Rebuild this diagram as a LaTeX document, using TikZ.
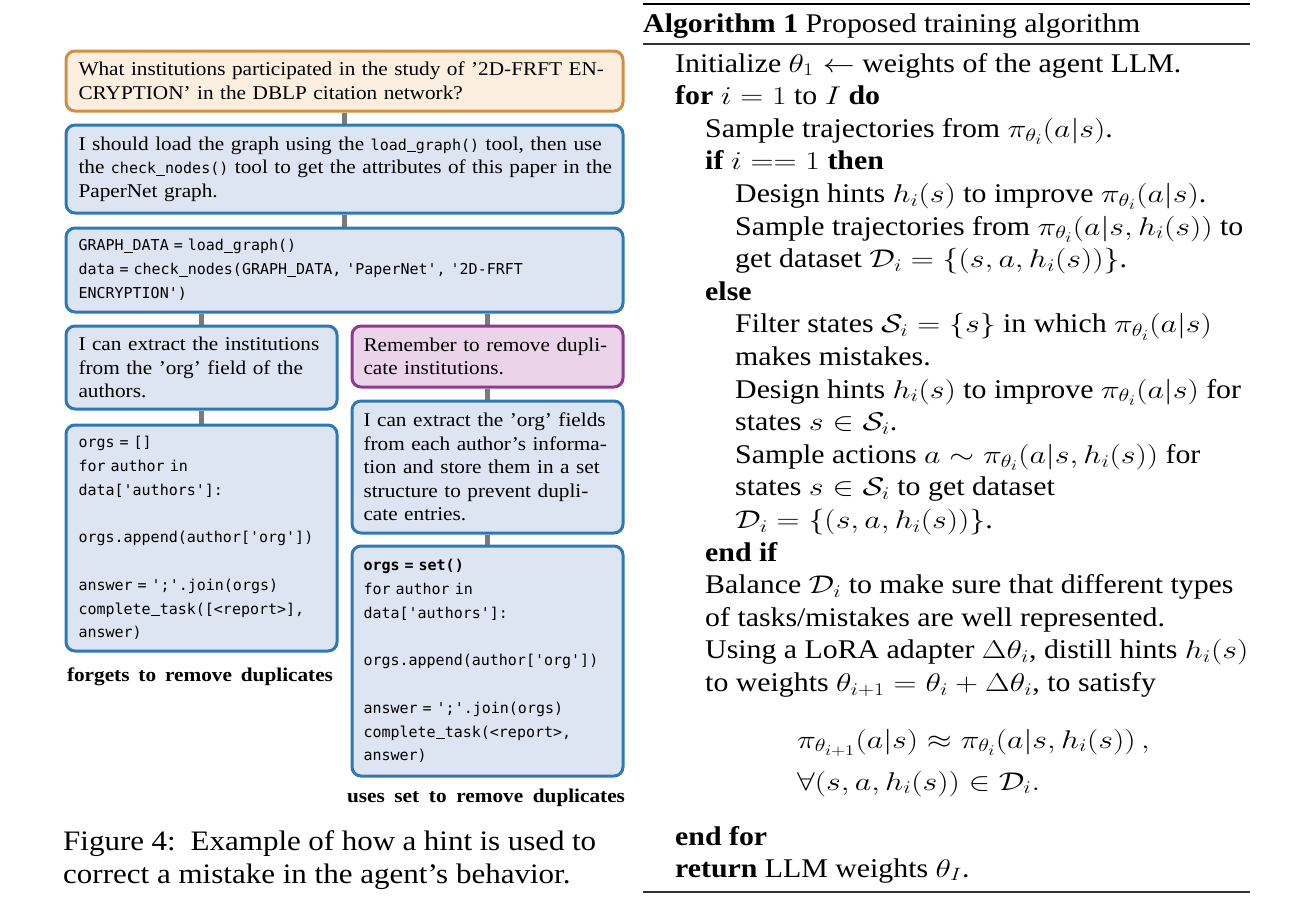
\documentclass[tikz,border=0pt]{standalone}
\usepackage{graphicx}
\usepackage[no-math]{fontspec}
\setmainfont{Liberation Serif}
\setmonofont{DejaVu Sans Mono}
\newfontfamily\boxrm{Liberation Serif}[FakeStretch=1.09,Ligatures=TeX]
\newfontfamily\caprm{Liberation Serif}[FakeStretch=1.10,Ligatures=TeX]
\usetikzlibrary{backgrounds}
\definecolor{obord}{HTML}{CF8F45}
\definecolor{ofill}{HTML}{FDEFDF}
\definecolor{bbord}{HTML}{2E78B7}
\definecolor{bfill}{HTML}{DDE5F3}
\definecolor{pbord}{HTML}{8C3A92}
\definecolor{pfill}{HTML}{EBD4E9}
\definecolor{connc}{HTML}{7A7A7A}
\newcommand{\boxfont}{\boxrm\fontsize{19.5}{23.6}\selectfont}
\newcommand{\codefont}{\ttfamily\fontsize{15}{23.8}\selectfont}
\newcommand{\algfont}{\fontsize{27}{32.6}\selectfont}
\newcommand{\figcapfont}{\caprm\fontsize{28.2}{32.6}\selectfont}
\newcommand{\us}{\makebox[0.602em][l]{\rule[-2.2pt]{0.602em}{1.3pt}}}
\newcommand{\code}[1]{{\ttfamily\fontsize{15}{23.6}\selectfont #1}}
\newcommand{\jl}[1]{\makebox[\hsize][s]{#1}}
\newcommand{\hs}[1]{\scalebox{1.105}[1]{#1}}
\newcommand{\mm}[1]{\scalebox{1.16}[1.03]{$#1$}}
\tikzset{
  box/.style={draw, line width=3pt, rounded corners=9pt, anchor=north west,
    inner ysep=0pt, align=left},
  wide/.style={minimum width=557pt, text width=532pt, inner xsep=12.5pt},
  colL/.style={minimum width=271pt, text width=246pt, inner xsep=12.5pt},
  colR/.style={minimum width=271pt, text width=248pt, inner xsep=11.5pt},
  qbox/.style={box, draw=obord, fill=ofill, font=\boxfont},
  tbox/.style={box, draw=bbord, fill=bfill, font=\boxfont},
  cbox/.style={box, draw=bbord, fill=bfill, font=\codefont},
  hbox/.style={box, draw=pbord, fill=pfill, font=\boxfont},
  conn/.style={draw=connc, line width=5pt},
  algline/.style={anchor=base west, inner sep=0pt, font=\algfont},
  figcap/.style={anchor=base west, inner sep=0pt, font=\figcapfont},
  capline/.style={anchor=base, inner sep=0pt, font=\boxfont\bfseries},
  rulethick/.style={line width=2.4pt, black},
  rulethin/.style={line width=1.4pt, black!80},
}
\begin{document}
\begin{tikzpicture}[x=1pt,y=-1pt]
\useasboundingbox (0,0) rectangle (1305,921);
% ---------------- left figure ----------------
\node[qbox, wide, minimum height=60pt] (q) at (64.5,49.5)
  {\jl{What institutions participated in the study of '2D-FRFT EN-}\\
   \mbox{CRYPTION' in the DBLP citation network?}};
\node[tbox, wide, minimum height=88pt] (t1) at (64.5,123.5)
  {\jl{I should load the graph using the \code{load\us graph()} tool, then use}\\
   \jl{the \code{check\us nodes()} tool to get the attributes of this paper in the}\\
   \mbox{PaperNet graph.}};
\node[cbox, wide, minimum height=84pt, inner xsep=11pt] (c1) at (64.5,226.5)
  {\mbox{GRAPH\us DATA = load\us graph()}\\
   \mbox{data = check\us nodes(GRAPH\us DATA, 'PaperNet', '2D-FRFT}\\
   \mbox{ENCRYPTION')}};
\node[tbox, colL, minimum height=83pt] (t2L) at (64.5,324.5)
  {\mbox{I can extract the institutions}\\
   \mbox{from the 'org' field of the}\\
   \mbox{authors.}};
\node[cbox, colL, minimum height=226pt, inner xsep=11pt] (c2L) at (64.5,423.5)
  {\mbox{orgs = []}\\
   \mbox{for author in}\\
   \mbox{data['authors']:}\\
   \mbox{}\\
   \mbox{orgs.append(author['org'])}\\
   \mbox{}\\
   \mbox{answer = ';'.join(orgs)}\\
   \mbox{complete\us task([<report>],}\\
   \mbox{answer)}};
\node[hbox, colR, minimum height=61pt] (hint) at (350.5,324.5)
  {\jl{Remember to remove dupli-}\\
   \mbox{cate institutions.}};
\node[tbox, colR, minimum height=132pt] (t2R) at (350.5,399.5)
  {\jl{I can extract the 'org' fields}\\
   \jl{from each author's informa-}\\
   \jl{tion and store them in a set}\\
   \jl{structure to prevent dupli-}\\
   \mbox{cate entries.}};
\node[cbox, colR, minimum height=230pt, inner xsep=11pt] (c2R) at (350.5,544.5)
  {\mbox{\textbf{orgs = set()}}\\
   \mbox{for author in}\\
   \mbox{data['authors']:}\\
   \mbox{}\\
   \mbox{orgs.append(author['org'])}\\
   \mbox{}\\
   \mbox{answer = ';'.join(orgs)}\\
   \mbox{complete\us task(<report>,}\\
   \mbox{answer)}};
\node[capline] (capL) at (200,681)
  {\makebox[266pt][s]{forgets to remove duplicates}};
\node[capline] (capR) at (486,802)
  {\makebox[278pt][s]{uses set to remove duplicates}};
\begin{scope}[on background layer]
  \draw[conn] (q.south) -- (t1.north);
  \draw[conn] (t1.south) -- (c1.north);
  \draw[conn] (t2L.north |- c1.south) -- (t2L.north);
  \draw[conn] (hint.north |- c1.south) -- (hint.north);
  \draw[conn] (t2L.south) -- (c2L.north);
  \draw[conn] (hint.south) -- (t2R.north);
  \draw[conn] (t2R.south) -- (c2R.north);
\end{scope}
\node[figcap] (fig1) at (63,850) {\makebox[533pt][s]{Figure 4:\ \ Example of how a hint is used to}};
\node[figcap] (fig2) at (63,883) {correct a mistake in the agent's behavior.};
% ---------------- algorithm ----------------
\draw[rulethick] (643,4) -- (1250,4);
\draw[rulethin] (643,44) -- (1250,44);
\draw[rulethin] (643,892) -- (1250,892);
\node[algline] (title) at (643,32) {\hs{\textbf{Algorithm 1} Proposed training algorithm}};
\node[algline] (a1) at (675,72) {\hs{Initialize \mm{\theta_1 \leftarrow} weights of the agent LLM.}};
\node[algline] (a2) at (675,104.6) {\hs{\textbf{for} \mm{i=1} to \mm{I} \textbf{do}}};
\node[algline] (a3) at (705,137.2) {\hs{Sample trajectories from \mm{\pi_{\theta_i}(a|s)}.}};
\node[algline] (a4) at (705,169.8) {\hs{\textbf{if} \mm{i == 1} \textbf{then}}};
\node[algline] (a5) at (735,202.4) {\hs{Design hints \mm{h_i(s)} to improve \mm{\pi_{\theta_i}(a|s)}.}};
\node[algline] (a6) at (735,235) {\hs{Sample trajectories from \mm{\pi_{\theta_i}(a|s,h_i(s))} to}};
\node[algline] (a7) at (735,267.6) {\hs{get dataset \mm{\mathcal{D}_i=\{(s,a,h_i(s))\}}.}};
\node[algline] (a8) at (705,300.2) {\hs{\textbf{else}}};
\node[algline] (a9) at (735,332.8) {\hs{Filter states \mm{\mathcal{S}_i=\{s\}} in which \mm{\pi_{\theta_i}(a|s)}}};
\node[algline] (a10) at (735,365.4) {\hs{makes mistakes.}};
\node[algline] (a11) at (735,398) {\hs{Design hints \mm{h_i(s)} to improve \mm{\pi_{\theta_i}(a|s)} for}};
\node[algline] (a12) at (735,430.6) {\hs{states \mm{s\in\mathcal{S}_i}.}};
\node[algline] (a13) at (735,463.2) {\hs{Sample actions \mm{a\sim\pi_{\theta_i}(a|s,h_i(s))} for}};
\node[algline] (a14) at (735,495.8) {\hs{states \mm{s\in\mathcal{S}_i} to get dataset}};
\node[algline] (a15) at (735,528.4) {\hs{\mm{\mathcal{D}_i=\{(s,a,h_i(s))\}}.}};
\node[algline] (a16) at (705,561) {\hs{\textbf{end if}}};
\node[algline] (a17) at (705,593.6) {\hs{Balance \mm{\mathcal{D}_i} to make sure that different types}};
\node[algline] (a18) at (705,626.2) {\hs{of tasks/mistakes are well represented.}};
\node[algline] (a19) at (705,658.8) {\hs{Using a LoRA adapter \mm{\Delta\theta_i}, distill hints \mm{h_i(s)}}};
\node[algline] (a20) at (705,691.4) {\hs{to weights \mm{\theta_{i+1}=\theta_i+\Delta\theta_i}, to satisfy}};
\node[algline] (e1) at (797,748) {\hs{\mm{\pi_{\theta_{i+1}}(a|s)\approx\pi_{\theta_i}(a|s,h_i(s))\,,}}};
\node[algline] (e2) at (797,790) {\hs{\mm{\forall(s,a,h_i(s))\in\mathcal{D}_i.}}};
\node[algline] (a21) at (675,845) {\hs{\textbf{end for}}};
\node[algline] (a22) at (675,877) {\hs{\textbf{return} LLM weights \mm{\theta_I}.}};
\end{tikzpicture}
\end{document}
